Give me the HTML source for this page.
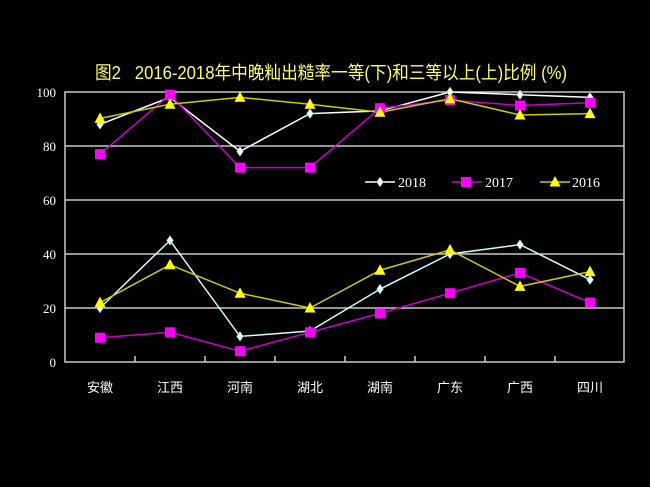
<!DOCTYPE html>
<html><head><meta charset="utf-8"><style>body{margin:0;background:#000}</style></head><body>
<svg width="650" height="487" xmlns="http://www.w3.org/2000/svg" style="display:block;background:#000">
<text x="95" y="79" textLength="472" lengthAdjust="spacingAndGlyphs" fill="#ffff66" font-family="Liberation Sans, Noto Sans CJK SC, sans-serif" font-size="18" xml:space="preserve">图2   2016-2018年中晚籼出糙率一等(下)和三等以上(上)比例 (%)</text>
<g stroke="#c8c8c8" stroke-width="1.5" fill="none">
<rect x="65" y="92" width="559" height="270"/>
<line x1="65" y1="146" x2="624" y2="146"/><line x1="65" y1="200" x2="624" y2="200"/>
<line x1="65" y1="254" x2="624" y2="254"/><line x1="65" y1="308" x2="624" y2="308"/>
<path d="M135 362v-6M205 362v-6M275 362v-6M345 362v-6M415 362v-6M485 362v-6M555 362v-6"/>
</g>
<g fill="#fff" font-family="Liberation Serif, serif" font-size="13" text-anchor="end">
<text x="56" y="97">100</text><text x="56" y="151">80</text><text x="56" y="205">60</text><text x="56" y="259">40</text><text x="56" y="313">20</text><text x="56" y="367">0</text>
</g>
<g fill="#fff" font-family="Liberation Sans, Noto Sans CJK SC, sans-serif" font-size="13" text-anchor="middle">
<text x="100" y="392">安徽</text><text x="170" y="392">江西</text><text x="240" y="392">河南</text><text x="310" y="392">湖北</text><text x="380" y="392">湖南</text><text x="450" y="392">广东</text><text x="520" y="392">广西</text><text x="590" y="392">四川</text>
</g>
<defs>
<path id="d" d="M0 -5L3.5 0L0 5L-3.5 0Z" fill="#e0ffff" stroke="#888" stroke-width="0.5"/>
<rect id="s" x="-5" y="-5" width="10" height="10" fill="#ff00ff"/>
<path id="t" d="M0 -6L5.5 4.5L-5.5 4.5Z" fill="#ffff00"/>
</defs>
<g fill="none" stroke-width="1.5">
<polyline stroke="#ffffff" points="100,124.4 170,97.4 240,151.4 310,113.6 380,110.9 450,92 520,94.7 590,97.4"/>
<polyline stroke="#cc00cc" points="100,154.1 170,94.7 240,167.6 310,167.6 380,108.2 450,100.1 520,105.5 590,102.8"/>
<polyline stroke="#cccc00" points="100,118.4 170,104.2 240,97.4 310,104.2 380,112.3 450,98.8 520,115 590,113.6"/>
<polyline stroke="#ccffff" points="100,308 170,240.5 240,336.4 310,331 380,289.1 450,254 520,244.6 590,279.7"/>
<polyline stroke="#cc00cc" points="100,337.7 170,332.3 240,351.2 310,332.3 380,313.4 450,293.2 520,272.9 590,302.6"/>
<polyline stroke="#cccc00" points="100,302.6 170,264.8 240,293.2 310,308 380,270.2 450,249.9 520,286.4 590,271.6"/>
</g>
<g>
<use href="#d" x="100" y="124.4"/><use href="#d" x="170" y="97.4"/><use href="#d" x="240" y="151.4"/><use href="#d" x="310" y="113.6"/><use href="#d" x="380" y="110.9"/><use href="#d" x="450" y="92"/><use href="#d" x="520" y="94.7"/><use href="#d" x="590" y="97.4"/>
<use href="#s" x="100" y="154.1"/><use href="#s" x="170" y="94.7"/><use href="#s" x="240" y="167.6"/><use href="#s" x="310" y="167.6"/><use href="#s" x="380" y="108.2"/><use href="#s" x="450" y="100.1"/><use href="#s" x="520" y="105.5"/><use href="#s" x="590" y="102.8"/>
<use href="#t" x="100" y="118.4"/><use href="#t" x="170" y="104.2"/><use href="#t" x="240" y="97.4"/><use href="#t" x="310" y="104.2"/><use href="#t" x="380" y="112.3"/><use href="#t" x="450" y="98.8"/><use href="#t" x="520" y="115"/><use href="#t" x="590" y="113.6"/>
<use href="#d" x="100" y="308"/><use href="#d" x="170" y="240.5"/><use href="#d" x="240" y="336.4"/><use href="#d" x="310" y="331"/><use href="#d" x="380" y="289.1"/><use href="#d" x="450" y="254"/><use href="#d" x="520" y="244.6"/><use href="#d" x="590" y="279.7"/>
<use href="#s" x="100" y="337.7"/><use href="#s" x="170" y="332.3"/><use href="#s" x="240" y="351.2"/><use href="#s" x="310" y="332.3"/><use href="#s" x="380" y="313.4"/><use href="#s" x="450" y="293.2"/><use href="#s" x="520" y="272.9"/><use href="#s" x="590" y="302.6"/>
<use href="#t" x="100" y="302.6"/><use href="#t" x="170" y="264.8"/><use href="#t" x="240" y="293.2"/><use href="#t" x="310" y="308"/><use href="#t" x="380" y="270.2"/><use href="#t" x="450" y="249.9"/><use href="#t" x="520" y="286.4"/><use href="#t" x="590" y="271.6"/>
</g>
<g font-family="Liberation Serif, serif" font-size="14" fill="#fff">
<line x1="365" y1="182" x2="395" y2="182" stroke="#fff" stroke-width="1.5"/><use href="#d" x="380" y="182"/><text x="398" y="187">2018</text>
<line x1="452" y1="182" x2="482" y2="182" stroke="#cc00cc" stroke-width="1.5"/><use href="#s" x="466" y="182"/><text x="485" y="187">2017</text>
<line x1="540" y1="182" x2="570" y2="182" stroke="#cccc00" stroke-width="1.5"/><use href="#t" x="555" y="182"/><text x="572" y="187">2016</text>
</g>
</svg>
</body></html>
